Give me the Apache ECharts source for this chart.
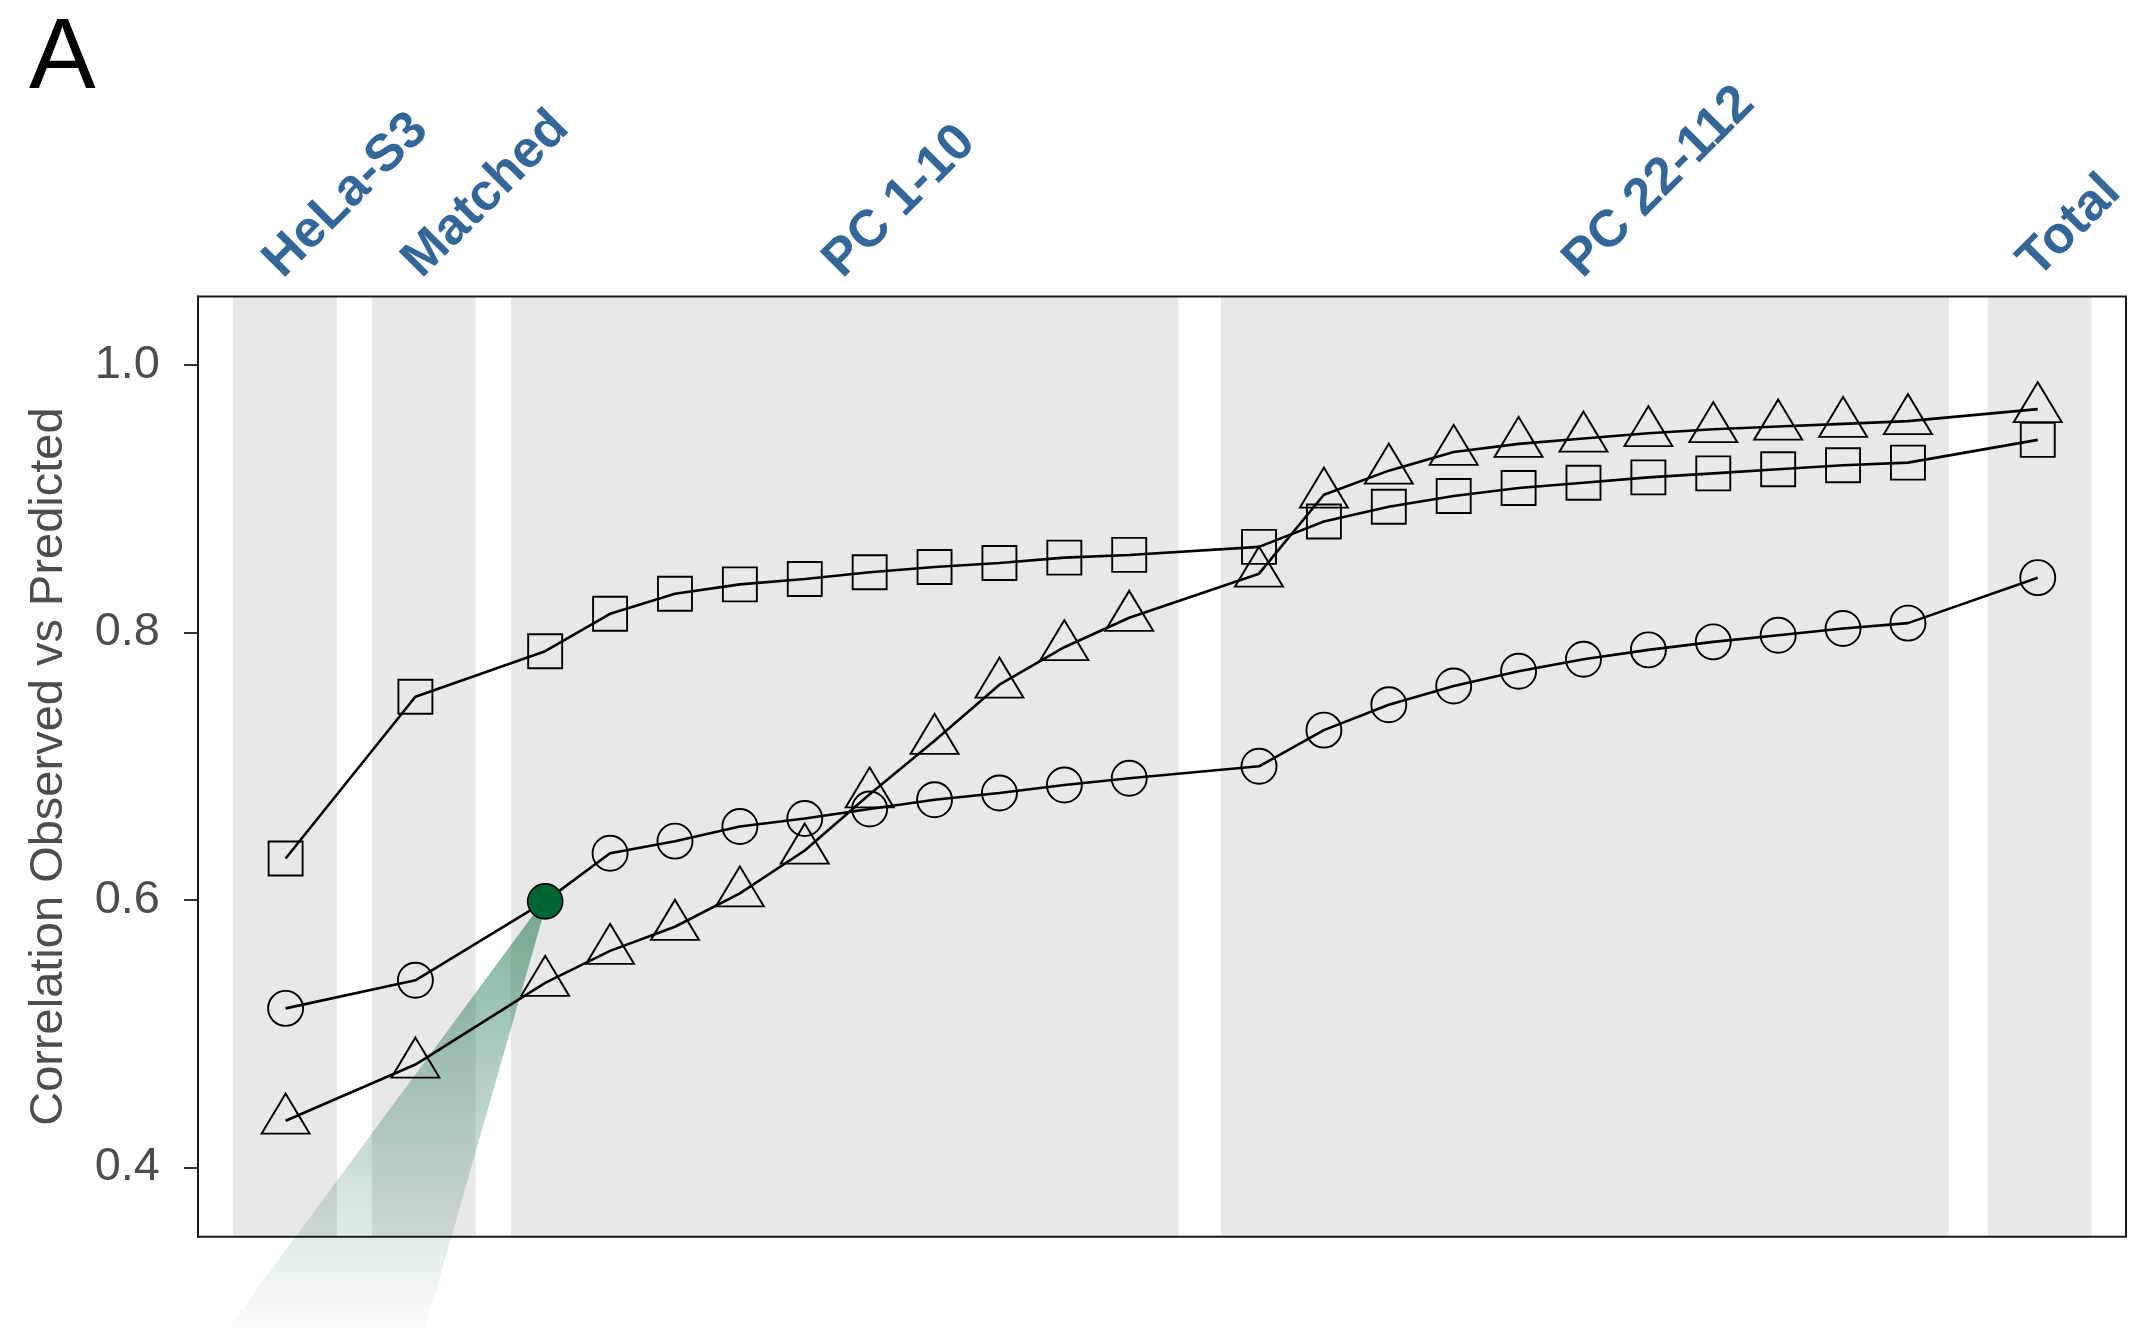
<!DOCTYPE html>
<html>
<head>
<meta charset="utf-8">
<title>Correlation Observed vs Predicted</title>
<script src="https://cdn.jsdelivr.net/npm/echarts@6.0.0/dist/echarts.min.js"></script>
<style>
  html, body { margin: 0; padding: 0; background: #fff; }
  #chart { width: 2130px; height: 1343px; }
</style>
</head>
<body>
<div id="chart"></div>
<script>
// x position of every point (gaps between groups)
const xPos = [0, 2, 4, 5, 6, 7, 8, 9, 10, 11, 12, 13, 15, 16, 17, 18, 19, 20, 21, 22, 23, 24, 25, 27]

const circles = [0.519, 0.540, 0.599, 0.635, 0.644, 0.655, 0.661, 0.668, 0.675, 0.680, 0.686, 0.691,
  0.700, 0.727, 0.746, 0.760, 0.771, 0.780, 0.787, 0.793, 0.798, 0.803, 0.807, 0.841]
const squares = [0.631, 0.752, 0.786, 0.814, 0.829, 0.836, 0.840, 0.845, 0.849, 0.852, 0.856, 0.858,
  0.864, 0.883, 0.894, 0.902, 0.908, 0.912, 0.916, 0.919, 0.922, 0.925, 0.927, 0.944]
const triangles = [0.435, 0.477, 0.538, 0.562, 0.580, 0.605, 0.637, 0.679, 0.719, 0.761, 0.789, 0.811,
  0.844, 0.903, 0.921, 0.935, 0.941, 0.945, 0.949, 0.952, 0.954, 0.956, 0.958, 0.967]

// index (into the arrays above) of the highlighted point, filled green
const highlightIndex = 2

const groupNames = ['HeLa-S3', 'Matched', 'PC 1-10', 'PC 22-112', 'Total']
const groupSpans = [[-0.81, 0.79], [1.33, 2.93], [3.47, 13.76], [14.41, 25.63], [26.23, 27.83]]

const yTicks = [0.4, 0.6, 0.8, 1.0]
const yMin = 0.3483
const yMax = 1.0512
const xMin = -1.35
const xMax = 28.36

const FONT = '"Liberation Sans", Arial, Helvetica, sans-serif'

const chart = echarts.init(document.getElementById('chart'), null, { renderer: 'canvas' })

function lineSeries (name, values, symbol, size, offset) {
  return {
    name: name,
    type: 'line',
    z: 3,
    data: values.map((v, i) => {
      const item = { value: [xPos[i], v] }
      if (name === 'circle' && i === highlightIndex) {
        item.itemStyle = { color: '#006633', borderColor: '#000', borderWidth: 1.6 }
      }
      return item
    }),
    symbol: symbol,
    symbolSize: size,
    symbolOffset: offset || [0, 0],
    showSymbol: true,
    lineStyle: { color: '#000', width: 2.6 },
    itemStyle: { color: 'transparent', borderColor: '#000', borderWidth: 1.9 },
    emphasis: { disabled: true },
    animation: false
  }
}

chart.setOption({
  animation: false,
  grid: {
    left: 198, right: 4, top: 296.5, bottom: 106.3,
    show: true, z: 10,
    borderColor: '#1a1a1a', borderWidth: 2,
    backgroundColor: 'transparent'
  },
  xAxis: {
    type: 'value', min: xMin, max: xMax, show: false
  },
  yAxis: {
    type: 'value', min: yMin, max: yMax,
    name: 'Correlation Observed vs Predicted',
    nameLocation: 'middle',
    nameGap: 125,
    nameTextStyle: { fontSize: 47, color: '#4d4d4d', fontFamily: FONT },
    axisLine: { show: true, onZero: false, lineStyle: { color: '#1a1a1a', width: 2 } },
    axisTick: { show: true, customValues: yTicks, length: 14, lineStyle: { color: '#333', width: 2 } },
    axisLabel: {
      customValues: yTicks, margin: 38,
      fontSize: 47, color: '#4d4d4d', fontFamily: FONT,
      padding: [7, 0, 0, 0],
      formatter: v => v.toFixed(1)
    },
    splitLine: { show: false }
  },
  series: [
    {
      type: 'custom',
      z: 0,
      silent: true,
      data: groupSpans.map(s => [s[0], s[1], 0.7]),
      encode: { x: [0, 1], y: 2 },
      renderItem: (params, api) => {
        const p0 = api.coord([api.value(0), yMax])
        const p1 = api.coord([api.value(1), yMin])
        return {
          type: 'rect',
          shape: { x: p0[0], y: p0[1], width: p1[0] - p0[0], height: p1[1] - p0[1] },
          style: { fill: '#e8e8e8' }
        }
      }
    },
    lineSeries('square', squares, 'rect', 34),
    lineSeries('triangle', triangles, 'triangle', [48, 40], [0, -7]),
    lineSeries('circle', circles, 'circle', 35)
  ]
})

// decorations placed through the chart's own scales
const graphics = []

const apex = chart.convertToPixel({ gridIndex: 0 }, [xPos[highlightIndex], circles[highlightIndex]])
const H = chart.getHeight()
graphics.push({
  type: 'polygon',
  z: 1,
  silent: true,
  shape: { points: [[apex[0] - 2, apex[1]], [apex[0] + 2, apex[1]], [apex[0] - 124, H], [apex[0] - 328, H]] },
  style: {
    fill: {
      type: 'linear', x: 0, y: 0, x2: 0, y2: 1,
      colorStops: [
        { offset: 0, color: 'rgba(0, 102, 51, 0.5)' },
        { offset: 1, color: 'rgba(0, 102, 51, 0.0)' }
      ]
    }
  }
})

groupNames.forEach((name, i) => {
  const cx = (groupSpans[i][0] + groupSpans[i][1]) / 2
  const p = chart.convertToPixel({ gridIndex: 0 }, [cx, yMax])
  graphics.push({
    type: 'text',
    x: p[0] + 6,
    y: p[1] - 9,
    rotation: Math.PI / 4,
    z: 5,
    style: {
      text: name,
      fill: '#336699',
      font: 'bold 52px ' + FONT,
      textAlign: 'left',
      textVerticalAlign: 'bottom'
    }
  })
})

graphics.push({
  type: 'text',
  x: 29,
  y: 10,
  z: 5,
  style: {
    text: 'A',
    fill: '#000',
    font: '100px ' + FONT,
    textAlign: 'left',
    textVerticalAlign: 'top'
  }
})

chart.setOption({ graphic: graphics })
</script>
</body>
</html>
